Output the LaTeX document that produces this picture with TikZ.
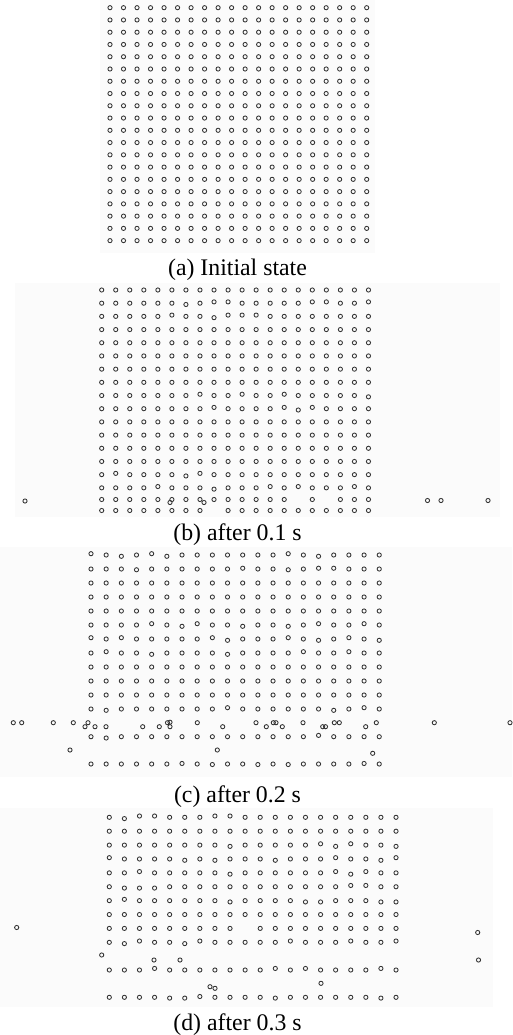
\documentclass[tikz,border=0pt]{standalone}
\usepackage{fontspec}
\setmainfont{Liberation Serif}

\begin{document}
\begin{tikzpicture}[
  x=1pt, y=-1pt,
  ptcl/.style={draw=black!80, line width=0.85pt},
  shot/.style={fill=black!1.5, draw=none},
  captext/.style={font=\fontsize{23.8}{26}\selectfont, anchor=base, inner sep=0pt}
]
\useasboundingbox (0,0) rectangle (512,1035);

%% ===== (a) initial state =====
\fill[shot] (100,0) rectangle (375,253);
\foreach \j in {0,...,19}
  \foreach \k in {0,...,19}
    \draw[ptcl] (110+13.51*\k,7.7+12.26*\j) circle[radius=2.1pt];
\node[captext] (capa) at (237.5,275) {(a) Initial state};

%% ===== (b) after 0.1 s =====
\fill[shot] (15,283) rectangle (500,517);
\pgfmathsetseed{11}
\foreach \j/\jit in {0/0,1/1,2/1,3/0,4/0,5/0,6/0,7/0,8/1,9/1,10/0,11/0,12/0,13/0,14/1,15/1}
  \foreach \k in {0,...,19}{
    \pgfmathsetmacro\dy{\jit*1.3*round(rnd*1.4-0.7)}
    \draw[ptcl] (101.7+14.04*\k,290+13.19*\j+\dy) circle[radius=2.1pt];
  }
% broken row, gaps at 14 and 16
\foreach \k in {0,...,13,15,17,18,19}
  \draw[ptcl] (101.7+14.04*\k,499.5) circle[radius=2.1pt];
\foreach \k in {0,...,7,9,10,...,19}
  \draw[ptcl] (101.7+14.04*\k,510.5) circle[radius=2.1pt];
% escaped ones
\foreach \px/\py in {170/502.5,204/502.5,25/501,427.5/500.5,441/500.5,488/500.5}
  \draw[ptcl] (\px,\py) circle[radius=2.1pt];
\node[captext] (capb) at (237.5,540.7) {(b) after 0.1 s};

%% ===== (c) after 0.2 s =====
\fill[shot] (0,547) rectangle (512,777);
\pgfmathsetseed{23}
\foreach \j/\jit in {0/1,1/0.6,2/0,3/0,4/0,5/1,6/1,7/1,8/0,9/0,10/0,11/1}
  \foreach \k in {0,...,19}{
    \pgfmathsetmacro\dy{\jit*1.3*round(rnd*1.4-0.7)}
    \draw[ptcl] (91+15.17*\k,555+14.0*\j+\dy) circle[radius=2.1pt];
  }
\foreach \yy/\jit in {736.7/1,764/0.4}
  \foreach \k in {0,...,19}{
    \pgfmathsetmacro\dy{\jit*1.3*round(rnd*1.4-0.7)}
    \draw[ptcl] (91+15.17*\k,\yy+\dy) circle[radius=2.1pt];
  }
% splashed layer
\foreach \px/\py in {13.3/722.7,21.7/722.7,53.3/722.7,73.3/722.7,88/722.7,85/726.7,
    95/726.7,106/726.7,142.7/726.7,159.3/726.7,167.5/722.7,170/722.2,170/726.7,
    197.3/722.7,222.7/726.7,256/722.7,266.3/726.7,273.3/722.7,276/722.7,282.3/726.7,
    303/722.7,322.7/726.7,325.5/726.7,334.3/722.7,339.3/722.7,365.7/726.7,376.3/722.7,
    434.3/722.7,510/722.7,70/750,217.3/750,372.7/753.3}
  \draw[ptcl] (\px,\py) circle[radius=2.1pt];
\node[captext] (capc) at (237.5,802.7) {(c) after 0.2 s};

%% ===== (d) after 0.3 s =====
\fill[shot] (0,808) rectangle (493,1007);
\pgfmathsetseed{5}
\foreach \j/\jit in {0/1,1/0,2/1,3/1,4/1,5/1,6/1,7/0,9/1}
  \foreach \k in {0,...,19}{
    \pgfmathsetmacro\dy{\jit*1.3*round(rnd*1.4-0.7)}
    \draw[ptcl] (109.3+15.09*\k,817.3+13.89*\j+\dy) circle[radius=2.1pt];
  }
% row with one hole
\foreach \k in {0,...,8,10,11,...,19}
  \draw[ptcl] (109.3+15.09*\k,928.4) circle[radius=2.1pt];
\foreach \yy/\jit in {970/1.2,997.3/0.6}
  \foreach \k in {0,...,19}{
    \pgfmathsetmacro\dy{\jit*1.3*round(rnd*1.4-0.7)}
    \draw[ptcl] (109.3+15.09*\k,\yy+\dy) circle[radius=2.1pt];
  }
\foreach \px/\py in {16.7/927.5,477.7/932.5,101.7/955,154/960,180/960,478.5/960,
    210/986.7,215/988.3,321/983.3}
  \draw[ptcl] (\px,\py) circle[radius=2.1pt];
\node[captext] (capd) at (237.5,1030.5) {(d) after 0.3 s};

\end{tikzpicture}
\end{document}
